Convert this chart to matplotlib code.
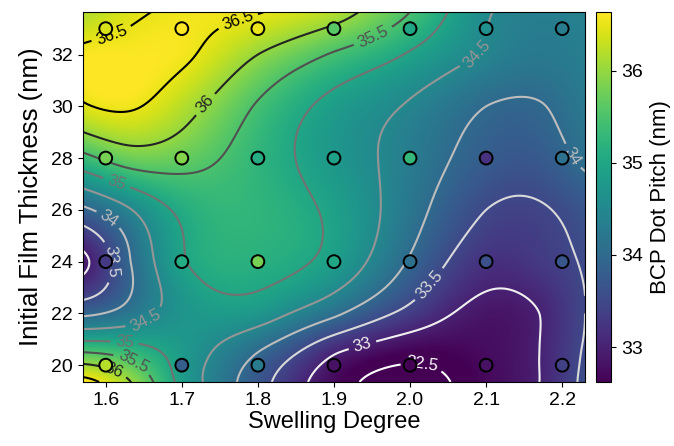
import numpy as np
import matplotlib
matplotlib.use('Agg')
import matplotlib.pyplot as plt

plt.rcParams['font.family'] = ['Liberation Sans', 'DejaVu Sans']

# measured points (swelling degree x film thickness)
swelling = [1.6, 1.7, 1.8, 1.9, 2.0, 2.1, 2.2]
thickness = [20, 24, 28, 33]
pitch_measured = [
    [36.20, 33.80, 34.30, 32.80, 32.62, 32.80, 33.40],   # 20 nm
    [33.30, 35.10, 35.80, 35.00, 34.10, 33.60, 33.70],   # 24 nm
    [35.80, 35.90, 35.10, 34.90, 35.30, 33.20, 34.10],   # 28 nm
    [36.40, 36.64, 36.50, 35.60, 35.00, 34.60, 34.30],   # 33 nm
]

# fitted surface at a coarse set of nodes
surf_x = [1.57, 1.63, 1.7, 1.8, 1.9, 2.0, 2.1, 2.17, 2.23]
surf_y = [19.35, 20.5, 22, 24, 26, 28, 30, 32, 33.65]
surf_pitch = [
    [36.65, 36.05, 34.85, 33.70, 32.70, 32.35, 32.70, 33.00, 33.60],
    [35.50, 35.30, 34.80, 34.00, 33.05, 32.65, 32.75, 33.00, 33.55],
    [33.90, 34.20, 34.70, 34.75, 34.10, 33.35, 32.85, 33.00, 33.50],
    [32.90, 33.95, 34.95, 35.15, 34.85, 33.95, 33.20, 33.30, 33.55],
    [33.90, 34.45, 35.10, 35.25, 34.90, 34.20, 33.50, 33.45, 33.70],
    [35.35, 35.75, 35.70, 35.25, 34.75, 34.30, 33.80, 33.75, 34.10],
    [36.45, 36.55, 36.20, 35.45, 34.85, 34.45, 34.00, 33.97, 34.25],
    [36.60, 36.62, 36.58, 36.00, 35.45, 34.95, 34.45, 34.25, 34.35],
    [36.15, 36.42, 36.55, 36.52, 36.20, 35.50, 34.55, 34.35, 34.40],
]

contour_levels = [32.5, 33, 33.5, 34, 34.5, 35, 35.5, 36, 36.5]
cbar_ticks = [33, 34, 35, 36]

# where the contour labels sit
label_spots = [(1.605, 33.0), (1.775, 33.2), (1.73, 30.1), (1.612, 19.9),
               (1.95, 32.8), (1.64, 20.35), (1.615, 27.1), (1.625, 20.95),
               (2.08, 32.3), (1.65, 21.9), (1.605, 25.7), (2.215, 28.1),
               (1.61, 24.0), (2.03, 23.0), (1.94, 20.5), (2.015, 19.95)]


def thin_plate(px, py, pz, qx, qy):
    """thin plate spline through the nodes, evaluated on qx/qy."""
    def kern(r):
        with np.errstate(divide='ignore', invalid='ignore'):
            k = r ** 2 * np.log(r)
        return np.nan_to_num(k)
    n = len(px)
    d = np.hypot(px[:, None] - px[None, :], py[:, None] - py[None, :])
    A = np.zeros((n + 3, n + 3))
    A[:n, :n] = kern(d)
    P = np.column_stack([np.ones(n), px, py])
    A[:n, n:] = P
    A[n:, :n] = P.T
    b = np.concatenate([pz, np.zeros(3)])
    coef = np.linalg.solve(A, b)
    dq = np.hypot(qx.ravel()[:, None] - px[None, :], qy.ravel()[:, None] - py[None, :])
    out = kern(dq) @ coef[:n] + coef[n] + coef[n + 1] * qx.ravel() + coef[n + 2] * qy.ravel()
    return out.reshape(qx.shape)


xlim = (1.57, 2.23)
ylim = (19.35, 33.65)

# normalise both axes to 0..1 for the spline
nx = lambda v: (np.asarray(v, float) - xlim[0]) / (xlim[1] - xlim[0])
ny = lambda v: (np.asarray(v, float) - ylim[0]) / (ylim[1] - ylim[0])

SX, SY = np.meshgrid(surf_x, surf_y)
gx = np.linspace(xlim[0], xlim[1], 300)
gy = np.linspace(ylim[0], ylim[1], 300)
GX, GY = np.meshgrid(gx, gy)
Z = thin_plate(nx(SX.ravel()), ny(SY.ravel()), np.array(surf_pitch).ravel(), nx(GX), ny(GY))

meas = np.array(pitch_measured)
vmin, vmax = meas.min(), meas.max()

fig = plt.figure(figsize=(6.74, 4.46), dpi=100)
ax = fig.add_axes([0.123, 0.1435, 0.745, 0.83])
cax = fig.add_axes([0.885, 0.1435, 0.022, 0.83])

im = ax.imshow(Z, origin='lower', extent=[*xlim, *ylim], aspect='auto',
               cmap='viridis', vmin=vmin, vmax=vmax, interpolation='bilinear')

cs = ax.contour(GX, GY, Z, levels=contour_levels, cmap='Greys',
                vmin=contour_levels[0], vmax=contour_levels[-1], linewidths=1.5)
ax.clabel(cs, inline=True, fontsize=12, fmt='%g', manual=label_spots)

MX, MY = np.meshgrid(swelling, thickness)
ax.scatter(MX.ravel(), MY.ravel(), c=meas.ravel(), cmap='viridis', vmin=vmin, vmax=vmax,
           s=85, edgecolors='black', linewidths=1.4, zorder=5)

ax.set_xlim(*xlim)
ax.set_ylim(*ylim)
ax.set_xticks(swelling)
ax.set_xticklabels([f'{v:.1f}' for v in swelling])
ax.set_yticks([20, 22, 24, 26, 28, 30, 32])
ax.tick_params(labelsize=14)
ax.set_xlabel('Swelling Degree', fontsize=17, labelpad=2)
ax.set_ylabel('Initial Film Thickness (nm)', fontsize=18.5, labelpad=6)

cb = fig.colorbar(im, cax=cax, ticks=cbar_ticks)
cb.ax.tick_params(labelsize=14)
cb.set_label('BCP Dot Pitch (nm)', fontsize=16, labelpad=5)

fig.savefig('out.png', dpi=100)
plt.close(fig)
